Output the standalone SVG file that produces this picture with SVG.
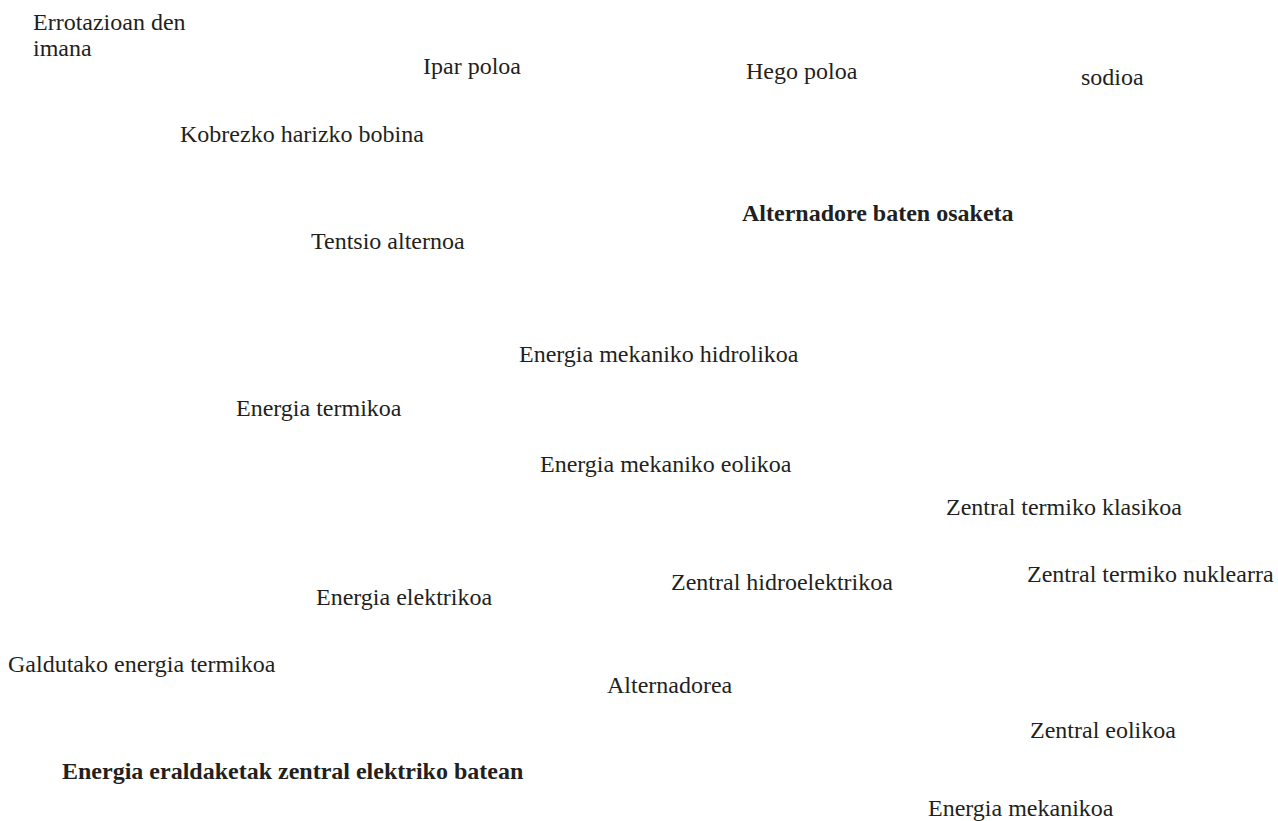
<svg xmlns="http://www.w3.org/2000/svg" width="1278" height="821" viewBox="0 0 1278 821">
<style>
text{font-family:"Liberation Serif","Times New Roman",serif;font-size:24px;fill:#231f20}
.b{font-weight:bold}
</style>
<rect width="1278" height="821" fill="#ffffff"/>
<g id="connectors"></g>
<g id="n-errotazioan"><text x="33" y="30">Errotazioan den</text><text x="33" y="56">imana</text></g>
<g id="n-ipar"><text x="423" y="74">Ipar poloa</text></g>
<g id="n-hego"><text x="746" y="79">Hego poloa</text></g>
<g id="n-sodioa"><text x="1081" y="85">sodioa</text></g>
<g id="n-kobrezko"><text x="180" y="142">Kobrezko harizko bobina</text></g>
<g id="n-alternadore-osaketa"><text class="b" x="742" y="221">Alternadore baten osaketa</text></g>
<g id="n-tentsio"><text x="311" y="249">Tentsio alternoa</text></g>
<g id="n-hidrolikoa"><text x="519" y="362">Energia mekaniko hidrolikoa</text></g>
<g id="n-termikoa"><text x="236" y="416">Energia termikoa</text></g>
<g id="n-eolikoa"><text x="540" y="472">Energia mekaniko eolikoa</text></g>
<g id="n-klasikoa"><text x="946" y="515">Zentral termiko klasikoa</text></g>
<g id="n-nuklearra"><text x="1027" y="582">Zentral termiko nuklearra</text></g>
<g id="n-hidroelektrikoa"><text x="671" y="590">Zentral hidroelektrikoa</text></g>
<g id="n-elektrikoa"><text x="316" y="605">Energia elektrikoa</text></g>
<g id="n-galdutako"><text x="8" y="672">Galdutako energia termikoa</text></g>
<g id="n-alternadorea"><text x="607" y="693">Alternadorea</text></g>
<g id="n-zentral-eolikoa"><text x="1030" y="738">Zentral eolikoa</text></g>
<g id="n-title"><text class="b" x="62" y="779">Energia eraldaketak zentral elektriko batean</text></g>
<g id="n-mekanikoa"><text x="928" y="816">Energia mekanikoa</text></g>
</svg>
